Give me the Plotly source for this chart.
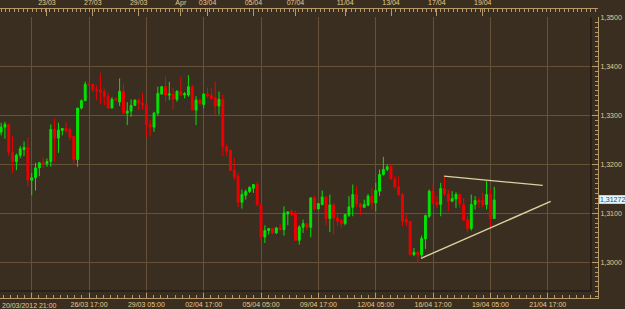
import plotly.graph_objects as go

# ---------------- data (H4 candles, index 0 = 20/03/2012 21:00) ----------------
open_ = [
1.32657, 1.32759, 1.32814, 1.32248, 1.32057, 1.32186, 1.32302, 1.32343, 1.31675, 1.31723,
1.31927, 1.32030, 1.32009, 1.32057, 1.32711, 1.32534, 1.32691, 1.32732, 1.32711, 1.32568,
1.32098, 1.33148, 1.33298, 1.33645, 1.33632, 1.33530, 1.33516, 1.33482, 1.33386, 1.33148,
1.33339, 1.33270, 1.33489, 1.33045, 1.33086, 1.33202, 1.33311, 1.33250, 1.33216, 1.32814,
1.32759, 1.33045, 1.33434, 1.33584, 1.33414, 1.33434, 1.33325, 1.33489, 1.33414, 1.33414,
1.33584, 1.33107, 1.33311, 1.33223, 1.33434, 1.33407, 1.33359, 1.33189, 1.33325, 1.32357,
1.32289, 1.31880, 1.31757, 1.31225, 1.31368, 1.31443, 1.31512, 1.31587, 1.31177, 1.30516,
1.30646, 1.30687, 1.30598, 1.30701, 1.30666, 1.30987, 1.31041, 1.31007, 1.30448, 1.30714,
1.30789, 1.30714, 1.31314, 1.31089, 1.31177, 1.31334, 1.30891, 1.31171, 1.30905, 1.30850,
1.30789, 1.30959, 1.31123, 1.31382, 1.31198, 1.31123, 1.31164, 1.31349, 1.31212, 1.31451,
1.31792, 1.31894, 1.31962, 1.31703, 1.31540, 1.31383, 1.30871, 1.30837, 1.30156, 1.30203,
1.30149, 1.30476, 1.30939, 1.31451, 1.31226, 1.31178, 1.31505, 1.31396, 1.31246, 1.31294,
1.31383, 1.31178, 1.30871, 1.30687, 1.31178, 1.31260, 1.31260, 1.31178, 1.31383, 1.30892,
]
high = [
1.32848, 1.32868, 1.32814, 1.32575, 1.32221, 1.32371, 1.32466, 1.32548, 1.31825, 1.32030,
1.32050, 1.32139, 1.32118, 1.32814, 1.32936, 1.32848, 1.32732, 1.32861, 1.32745, 1.32568,
1.33148, 1.33325, 1.33686, 1.33666, 1.33645, 1.33611, 1.33870, 1.33543, 1.33461, 1.33373,
1.33359, 1.33754, 1.33652, 1.33270, 1.33325, 1.33325, 1.33339, 1.33461, 1.33216, 1.32916,
1.33073, 1.33584, 1.33598, 1.33788, 1.33686, 1.33564, 1.33516, 1.33788, 1.33475, 1.33816,
1.33625, 1.33393, 1.33339, 1.33448, 1.33570, 1.33550, 1.33686, 1.33482, 1.33427, 1.32405,
1.32289, 1.32132, 1.31825, 1.31484, 1.31484, 1.31552, 1.31600, 1.31641, 1.31177, 1.30755,
1.30701, 1.30701, 1.30721, 1.30789, 1.31143, 1.31041, 1.31075, 1.31055, 1.30755, 1.30871,
1.30803, 1.31327, 1.31362, 1.31212, 1.31464, 1.31348, 1.31382, 1.31212, 1.30973, 1.30884,
1.30987, 1.31348, 1.31587, 1.31552, 1.31212, 1.31280, 1.31396, 1.31519, 1.31621, 1.31894,
1.32153, 1.31996, 1.32010, 1.31758, 1.31758, 1.31417, 1.30974, 1.30837, 1.30292, 1.30224,
1.30544, 1.30974, 1.31485, 1.31587, 1.31349, 1.31621, 1.31758, 1.31485, 1.31451, 1.31430,
1.31383, 1.31315, 1.30939, 1.31383, 1.31349, 1.31315, 1.31417, 1.31669, 1.31485, 1.31540,
]
low = [
1.32589, 1.32521, 1.32166, 1.31825, 1.31880, 1.32125, 1.32166, 1.31552, 1.31368, 1.31464,
1.31757, 1.31927, 1.31948, 1.31948, 1.32064, 1.32234, 1.32589, 1.32657, 1.32493, 1.31989,
1.31948, 1.33120, 1.33298, 1.33618, 1.33475, 1.33311, 1.33223, 1.33209, 1.33148, 1.33148,
1.33298, 1.33189, 1.33045, 1.32800, 1.32970, 1.33189, 1.33107, 1.33120, 1.32541, 1.32575,
1.32664, 1.32984, 1.33427, 1.33277, 1.33311, 1.33120, 1.33277, 1.33407, 1.33345, 1.33380,
1.33107, 1.32800, 1.33223, 1.33141, 1.33359, 1.33325, 1.33018, 1.33018, 1.32166, 1.32180,
1.31880, 1.31675, 1.31123, 1.31096, 1.31280, 1.31416, 1.31416, 1.31143, 1.30428, 1.30394,
1.30564, 1.30578, 1.30578, 1.30653, 1.30544, 1.30755, 1.30939, 1.30448, 1.30360, 1.30598,
1.30653, 1.30510, 1.31055, 1.31075, 1.31164, 1.30755, 1.30619, 1.30564, 1.30735, 1.30701,
1.30755, 1.30925, 1.30939, 1.31123, 1.30959, 1.31109, 1.31143, 1.31076, 1.31042, 1.31349,
1.31771, 1.31860, 1.31690, 1.31505, 1.31349, 1.30735, 1.30735, 1.30135, 1.30122, 1.29985,
1.30108, 1.30272, 1.30906, 1.31178, 1.31110, 1.30939, 1.31349, 1.31042, 1.31233, 1.31110,
1.31110, 1.30837, 1.30612, 1.30646, 1.31076, 1.31110, 1.31124, 1.31076, 1.30721, 1.30892,
]
close = [
1.32759, 1.32814, 1.32248, 1.32057, 1.32186, 1.32316, 1.32343, 1.31675, 1.31723, 1.31927,
1.32030, 1.32009, 1.32057, 1.32711, 1.32534, 1.32698, 1.32732, 1.32677, 1.32555, 1.32098,
1.33148, 1.33298, 1.33632, 1.33618, 1.33530, 1.33509, 1.33475, 1.33386, 1.33148, 1.33325,
1.33311, 1.33489, 1.33045, 1.33086, 1.33202, 1.33311, 1.33250, 1.33216, 1.32814, 1.32759,
1.33045, 1.33448, 1.33584, 1.33414, 1.33434, 1.33325, 1.33489, 1.33414, 1.33441, 1.33584,
1.33107, 1.33311, 1.33236, 1.33434, 1.33393, 1.33345, 1.33189, 1.33325, 1.32357, 1.32268,
1.31880, 1.31743, 1.31225, 1.31382, 1.31443, 1.31525, 1.31587, 1.31177, 1.30516, 1.30646,
1.30687, 1.30598, 1.30701, 1.30666, 1.31007, 1.31028, 1.30973, 1.30448, 1.30721, 1.30789,
1.30714, 1.31314, 1.31089, 1.31198, 1.31334, 1.30891, 1.31171, 1.30905, 1.30837, 1.30789,
1.30973, 1.31130, 1.31382, 1.31191, 1.31123, 1.31177, 1.31348, 1.31212, 1.31465, 1.31792,
1.31894, 1.31949, 1.31703, 1.31540, 1.31383, 1.30837, 1.30817, 1.30156, 1.30203, 1.30156,
1.30483, 1.30953, 1.31451, 1.31199, 1.31178, 1.31505, 1.31396, 1.31246, 1.31301, 1.31383,
1.31192, 1.30858, 1.30687, 1.31178, 1.31260, 1.31226, 1.31178, 1.31383, 1.30892, 1.31272,
]
candle_idx = list(range(len(close)))

# trend lines (candle index, price)
upper_line_x = [115.87, 141.69]
upper_line_y = [1.31759, 1.31569]
lower_line_x = [109.85, 143.78]
lower_line_y = [1.30080, 1.31243]

# bottom axis ticks
bottom_tick_idx = [8, 23, 38, 53, 68, 83, 98, 113, 128, 143]
bottom_tick_text = ["", "26/03 17:00", "29/03 05:00", "02/04 17:00", "05/04 05:00",
                    "09/04 17:00", "12/04 05:00", "16/04 17:00", "19/04 05:00", "21/04 17:00"]
first_label = "20/03/2012 21:00"

# top axis ticks
top_tick_idx = [12, 24, 36, 47, 54, 66, 77, 90, 102, 114, 126]
top_tick_text = ["23/03", "27/03", "29/03", "Apr", "03/04", "05/04", "07/04",
                 "11/04", "13/04", "17/04", "19/04"]

# price axis
price_ticks = [1.30, 1.31, 1.32, 1.33, 1.34, 1.35]
price_tick_text = ["1,3000", "1,3100", "1,3200", "1,3300", "1,3400", "1,3500"]
last_price_text = "1,31272"

# ---------------- style ----------------
BG = "#3a2e21"
GRID = "#665237"
AX = "#b8996a"
TXT = "#e8ca8c"
UP = "#00e600"
DN = "#ee0000"
FONT = "Liberation Sans"
XR = [-0.29, 156.15]

fig = go.Figure()
fig.add_trace(go.Candlestick(
    x=candle_idx, open=open_, high=high, low=low, close=close,
    increasing=dict(line=dict(color=UP, width=1), fillcolor=UP),
    decreasing=dict(line=dict(color=DN, width=1), fillcolor=DN),
    whiskerwidth=0, showlegend=False, hoverinfo="skip"))
for lx, ly in ((upper_line_x, upper_line_y), (lower_line_x, lower_line_y)):
    fig.add_trace(go.Scatter(x=lx, y=ly, mode="lines",
                             line=dict(color="#ddd0a0", width=1.4),
                             showlegend=False, hoverinfo="skip"))
fig.add_trace(go.Scatter(x=[], y=[], xaxis="x2", yaxis="y2", showlegend=False))

ytop = 0.9713
fig.update_layout(
    width=625, height=309,
    margin=dict(l=0, r=27, t=9, b=11),
    paper_bgcolor=BG, plot_bgcolor=BG,
    font=dict(family=FONT, size=7, color=TXT),
    xaxis=dict(domain=[0, 1], range=XR, anchor="y",
               tickmode="array", tickvals=bottom_tick_idx, ticktext=bottom_tick_text,
               ticks="inside", ticklen=5, tickcolor=AX, tickwidth=1,
               showline=True, linecolor=AX, linewidth=1,
               showgrid=True, gridcolor=GRID, gridwidth=1, zeroline=False,
               tickfont=dict(family=FONT, size=7, color=TXT),
               minor=dict(tickmode="linear", tick0=8, dtick=1.875, ticks="inside",
                          ticklen=3, tickcolor=AX, showgrid=False),
               rangeslider=dict(visible=False)),
    yaxis=dict(domain=[0, ytop], range=[1.2927, 1.35002], side="right", anchor="x",
               tickmode="array", tickvals=price_ticks, ticktext=price_tick_text,
               ticks="inside", ticklen=6, tickcolor=AX,
               showline=True, linecolor=AX, linewidth=1,
               showgrid=True, gridcolor=GRID, gridwidth=1, zeroline=False,
               tickfont=dict(family=FONT, size=7, color=TXT),
               minor=dict(tickmode="linear", tick0=1.30, dtick=0.001, ticks="inside",
                          ticklen=3, tickcolor=AX, showgrid=False)),
    xaxis2=dict(domain=[0, 1], range=XR, anchor="y2", side="top",
                tickmode="array", tickvals=top_tick_idx, ticktext=top_tick_text,
                ticks="inside", ticklen=7, tickcolor=AX,
                showline=True, linecolor=AX, linewidth=1,
                showgrid=False, zeroline=False,
                tickfont=dict(family=FONT, size=7, color=TXT),
                minor=dict(tickmode="linear", tick0=0, dtick=1.16, ticks="inside",
                           ticklen=3, tickcolor=AX, showgrid=False)),
    yaxis2=dict(domain=[ytop, 1], range=[0, 1], anchor="x2", visible=False),
    shapes=[
        dict(type="line", xref="x domain", yref="y domain", x0=0.9883, x1=0.9883,
             y0=0.0249, y1=1, line=dict(color="#1b140d", width=1.2)),
        dict(type="line", xref="x domain", yref="y domain", x0=0, x1=0.9883,
             y0=0.0249, y1=0.0249, line=dict(color="#1b140d", width=1.2)),
    ],
    annotations=[
        dict(text=first_label, xref="paper", yref="paper", x=0, y=0,
             xanchor="left", yanchor="top", yshift=-2, showarrow=False,
             font=dict(family=FONT, size=7, color=TXT)),
        dict(text=last_price_text, xref="paper", yref="y", x=1, y=close[-1],
             xanchor="left", yanchor="middle", xshift=1, showarrow=False,
             bgcolor="#e2f6ff", bordercolor="#a8dcef", borderwidth=1, borderpad=0,
             font=dict(family=FONT, size=7, color="#114a80")),
    ],
    hovermode=False,
)

fig.write_html("out.html")
